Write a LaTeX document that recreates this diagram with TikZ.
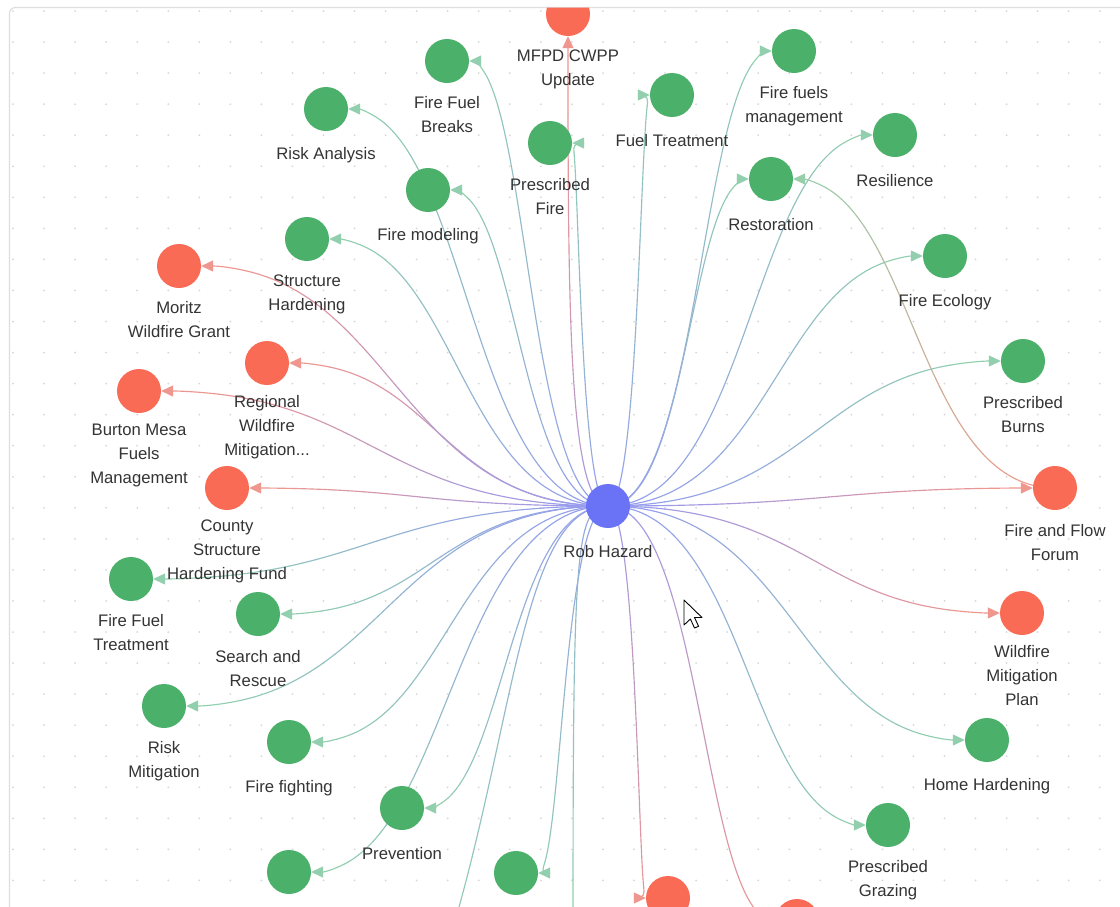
\documentclass[tikz,border=0pt]{standalone}
\usepackage{fontspec}
\setmainfont{Liberation Sans}
\usetikzlibrary{arrows.meta,calc}
\pgfdeclarelayer{bgl}
\pgfdeclarelayer{edgl}
\pgfsetlayers{bgl,edgl,main}
\definecolor{hubc}{RGB}{106,114,245}
\definecolor{grn}{RGB}{74,176,106}
\definecolor{rd}{RGB}{250,107,86}
\definecolor{hubL}{RGB}{150,156,242}
\definecolor{grnL}{RGB}{145,210,172}
\definecolor{rdL}{RGB}{244,150,138}
\definecolor{txt}{RGB}{52,52,52}
\definecolor{dotc}{RGB}{215,215,215}
\definecolor{framec}{RGB}{222,222,222}
\tikzset{
  vnode/.style={circle, minimum size=44pt, inner sep=0pt, draw=none},
  gnode/.style={vnode, fill=grn},
  rnode/.style={vnode, fill=rd},
  bnode/.style={vnode, fill=hubc},
  lbl/.style={anchor=base, inner sep=0pt, font=\fontsize{16.7}{24}\selectfont, text=txt},
}
% gradient cubic curve: #1 src, #2 src anchor, #3 c1, #4 c2, #5 tgt, #6 tgt anchor, #7 src colour, #8 tgt colour
\newcommand\gcurve[8]{%
  \foreach \i in {0,...,9}{%
    \pgfmathsetmacro\ta{\i/10}%
    \pgfmathsetmacro\tb{(\i+1)/10}%
    \pgfmathtruncatemacro\mixp{(\i+0.5)*10}%
    \begin{pgfscope}%
      \colorlet{segc}{#8!\mixp!#7}%
      \pgfsetstrokecolor{segc}\pgfsetfillcolor{segc}%
      \pgfsetlinewidth{1.15pt}%
      \pgfsetroundcap
      \ifnum\i=9 \colorlet{arrc}{#8!80!white}\pgfsetfillcolor{arrc}\pgfsetarrowsend{Triangle[length=12pt,width=11pt]}\fi
      \pgfpathcurvebetweentime{\ta}{\tb}{\pgfpointanchor{#1}{#2}}{\pgfpointanchor{#3}{center}}{\pgfpointanchor{#4}{center}}{\pgfpointanchor{#5}{#6}}%
      \pgfusepath{stroke}%
    \end{pgfscope}%
  }%
}
% edge from the hub: #1 target, #2 anchor, #3 colour
\newcommand\hedge[3]{%
  \coordinate (m-#1) at ($(hub.center)!0.5!(#1.center)$);
  \coordinate (ca-#1) at (m-#1 |- hub.center);
  \coordinate (cb-#1) at (m-#1 |- #1.center);
  \gcurve{hub}{center}{ca-#1}{cb-#1}{#1}{#2}{hubL}{#3}%
}
\begin{document}
\begin{tikzpicture}[x=1pt,y=-1pt]
\useasboundingbox (0,0) rectangle (1120,906);

\begin{scope}
\clip[rounded corners=6] (9.5,7.5) rectangle (1140,930);
% nodes
\node[bnode] (hub) at (608,506) {};
\node[rnode] (mfpd) at (568,14) {};
\node[gnode] (ffb) at (447,61) {};
\node[gnode] (risk) at (326,109) {};
\node[gnode] (fmod) at (428,190) {};
\node[gnode] (pfire) at (550,143) {};
\node[gnode] (ftreat) at (672,95) {};
\node[gnode] (ffm) at (794,51) {};
\node[gnode] (resil) at (895,135) {};
\node[gnode] (resto) at (771,179) {};
\node[gnode] (feco) at (945,256) {};
\node[gnode] (pburns) at (1023,361) {};
\node[rnode] (ffforum) at (1055,488) {};
\node[rnode] (wmp) at (1022,613) {};
\node[gnode] (hhard) at (987,740) {};
\node[gnode] (pgraz) at (888,825) {};
\node[rnode] (redbb) at (797,921) {};
\node[rnode] (redba) at (668,898) {};
\node[gnode] (grnbb) at (516,873) {};
\node[gnode] (grnba) at (289,872) {};
\node[gnode] (prev) at (402,808) {};
\node[gnode] (ffight) at (289,742) {};
\node[gnode] (riskm) at (164,706) {};
\node[gnode] (sar) at (258,614) {};
\node[gnode] (fftreat) at (131,579) {};
\node[rnode] (county) at (227,488) {};
\node[rnode] (burton) at (139,391) {};
\node[rnode] (regional) at (267,363) {};
\node[rnode] (moritz) at (179,266) {};
\node[gnode] (shard) at (307,239) {};
% labels
\node[lbl] (hub-l) at (608,557) {Rob Hazard};
\node[lbl] (mfpd-l) at (568,61) {\begin{tabular}[t]{@{}c@{}}MFPD CWPP\\Update\end{tabular}};
\node[lbl] (ffb-l) at (447,108.5) {\begin{tabular}[t]{@{}c@{}}Fire Fuel\\Breaks\end{tabular}};
\node[lbl] (risk-l) at (326,159.5) {Risk Analysis};
\node[lbl] (fmod-l) at (428,240.5) {Fire modeling};
\node[lbl] (pfire-l) at (550,190.5) {\begin{tabular}[t]{@{}c@{}}Prescribed\\Fire\end{tabular}};
\node[lbl] (ftreat-l) at (672,146.5) {Fuel Treatment};
\node[lbl] (ffm-l) at (794,98) {\begin{tabular}[t]{@{}c@{}}Fire fuels\\management\end{tabular}};
\node[lbl] (resil-l) at (895,186) {Resilience};
\node[lbl] (resto-l) at (771,230) {Restoration};
\node[lbl] (feco-l) at (945,306) {Fire Ecology};
\node[lbl] (pburns-l) at (1023,408.5) {\begin{tabular}[t]{@{}c@{}}Prescribed\\Burns\end{tabular}};
\node[lbl] (ffforum-l) at (1055,536) {\begin{tabular}[t]{@{}c@{}}Fire and Flow\\Forum\end{tabular}};
\node[lbl] (wmp-l) at (1022,657) {\begin{tabular}[t]{@{}c@{}}Wildfire\\Mitigation\\Plan\end{tabular}};
\node[lbl] (hhard-l) at (987,790) {Home Hardening};
\node[lbl] (pgraz-l) at (888,872.5) {\begin{tabular}[t]{@{}c@{}}Prescribed\\Grazing\end{tabular}};
\node[lbl] (prev-l) at (402,859) {Prevention};
\node[lbl] (ffight-l) at (289,792) {Fire fighting};
\node[lbl] (riskm-l) at (164,753) {\begin{tabular}[t]{@{}c@{}}Risk\\Mitigation\end{tabular}};
\node[lbl] (sar-l) at (258,662) {\begin{tabular}[t]{@{}c@{}}Search and\\Rescue\end{tabular}};
\node[lbl] (fftreat-l) at (131,626) {\begin{tabular}[t]{@{}c@{}}Fire Fuel\\Treatment\end{tabular}};
\node[lbl] (county-l) at (227,531.5) {\begin{tabular}[t]{@{}c@{}}County\\Structure\\Hardening Fund\end{tabular}};
\node[lbl] (burton-l) at (139,435) {\begin{tabular}[t]{@{}c@{}}Burton Mesa\\Fuels\\Management\end{tabular}};
\node[lbl] (regional-l) at (267,407) {\begin{tabular}[t]{@{}c@{}}Regional\\Wildfire\\Mitigation...\end{tabular}};
\node[lbl] (moritz-l) at (179,313) {\begin{tabular}[t]{@{}c@{}}Moritz\\Wildfire Grant\end{tabular}};
\node[lbl] (shard-l) at (307,286) {\begin{tabular}[t]{@{}c@{}}Structure\\Hardening\end{tabular}};
\end{scope}

% background: panel, dot grid, frame
\begin{pgfonlayer}{bgl}
\fill[white] (0,0) rectangle (1120,906);
\begin{scope}
\clip[rounded corners=6] (9.5,7.5) rectangle (1140,930);
\foreach \i in {0,...,35}{\foreach \j in {0,...,29}{
  \fill[dotc] ({13+31.05*\i},{11+31.05*\j}) circle (1);
}}
\end{scope}
\draw[framec, line width=1.2pt, rounded corners=6] (9.5,7.5) rectangle (1140,930);
\end{pgfonlayer}

% connectors
\begin{pgfonlayer}{edgl}
\clip[rounded corners=6] (9.5,7.5) rectangle (1140,930);
\coordinate (ca-mfpd) at (568,506);
\coordinate (cb-mfpd) at (568,300);
\gcurve{hub}{center}{ca-mfpd}{cb-mfpd}{mfpd}{south}{hubL}{rdL}
\hedge{ffb}{east}{grnL}
\hedge{risk}{east}{grnL}
\hedge{fmod}{east}{grnL}
\hedge{pfire}{east}{grnL}
\hedge{ftreat}{west}{grnL}
\hedge{ffm}{west}{grnL}
\hedge{resil}{west}{grnL}
\hedge{resto}{west}{grnL}
\hedge{feco}{west}{grnL}
\hedge{pburns}{west}{grnL}
\hedge{ffforum}{west}{rdL}
\hedge{wmp}{west}{rdL}
\hedge{hhard}{west}{grnL}
\hedge{pgraz}{west}{grnL}
\hedge{redbb}{west}{rdL}
\hedge{redba}{west}{rdL}
\hedge{grnbb}{east}{grnL}
\hedge{grnba}{east}{grnL}
\hedge{prev}{east}{grnL}
\hedge{ffight}{east}{grnL}
\hedge{riskm}{east}{grnL}
\hedge{sar}{east}{grnL}
\hedge{fftreat}{east}{grnL}
\hedge{county}{east}{rdL}
\hedge{burton}{east}{rdL}
\hedge{regional}{east}{rdL}
\hedge{moritz}{east}{rdL}
\hedge{shard}{east}{grnL}
% Fire and Flow Forum -> Restoration
\coordinate (m-fr) at ($(ffforum.center)!0.5!(resto.center)$);
\coordinate (ca-fr) at (m-fr |- ffforum.center);
\coordinate (cb-fr) at (m-fr |- resto.center);
\gcurve{ffforum}{center}{ca-fr}{cb-fr}{resto}{east}{rdL}{grnL}
% connectors running off the bottom edge
\coordinate (offa) at (573,1000);
\coordinate (ca-offa) at (573,506);
\coordinate (cb-offa) at (573,560);
\gcurve{hub}{center}{ca-offa}{cb-offa}{offa}{center}{hubL}{grnL}
\coordinate (offb) at (430,1000);
\coordinate (ca-offb) at (515,506);
\coordinate (cb-offb) at (515,760);
\gcurve{hub}{center}{ca-offb}{cb-offb}{offb}{center}{hubL}{grnL}
\end{pgfonlayer}

% mouse pointer
\draw[fill=white, draw=black, line width=0.9pt, line join=round]
  (684,600) -- ++(0,25) -- ++(6.4,-6) -- ++(4.1,9) -- ++(4.1,-1.7) -- ++(-4.1,-8.8) -- ++(7.5,0) -- cycle;
\end{tikzpicture}
\end{document}
